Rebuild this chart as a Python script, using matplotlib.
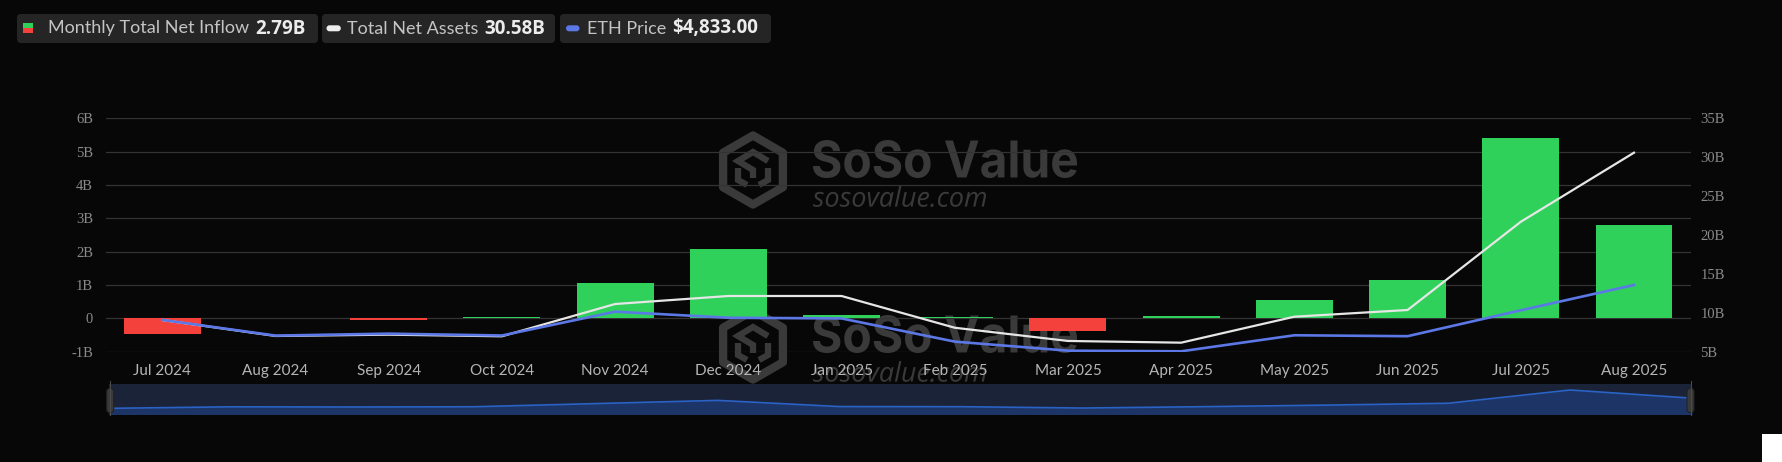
import matplotlib
matplotlib.use("Agg")
import matplotlib.pyplot as plt
import numpy as np
from matplotlib.patches import FancyBboxPatch, Rectangle, PathPatch, Polygon
from matplotlib.lines import Line2D
from matplotlib.textpath import TextPath
from matplotlib.font_manager import FontProperties
from matplotlib.transforms import Affine2D

# ---------------- data ----------------
months = ["Jul 2024", "Aug 2024", "Sep 2024", "Oct 2024", "Nov 2024", "Dec 2024",
          "Jan 2025", "Feb 2025", "Mar 2025", "Apr 2025", "May 2025", "Jun 2025",
          "Jul 2025", "Aug 2025"]
net_inflow_b = [-0.48, 0.01, -0.05, 0.03, 1.05, 2.08, 0.09, 0.05, -0.38, 0.06,
                0.56, 1.16, 5.42, 2.79]
total_net_assets_b = [9.07, 7.02, 7.19, 6.98, 11.13, 12.16, 12.16, 8.08, 6.38,
                      6.16, 9.50, 10.36, 21.70, 30.58]
eth_price = [3232, 2513, 2603, 2518, 3610, 3332, 3300, 2237, 1822, 1793, 2528,
             2486, 3673, 4833]
left_ticks = [-1, 0, 1, 2, 3, 4, 5, 6]
left_labels = ["-1B", "0", "1B", "2B", "3B", "4B", "5B", "6B"]
right_ticks = [5, 10, 15, 20, 25, 30, 35]
right_labels = ["5B", "10B", "15B", "20B", "25B", "30B", "35B"]
legend_labels = ["Monthly Total Net Inflow", "Total Net Assets", "ETH Price"]
legend_values = ["2.79B", "30.58B", "$4,833.00"]

# ---------------- style ----------------
BG = "#070707"
GREEN = "#2fd15a"
RED = "#f5413b"
WHITE_LINE = "#e6e6e6"
BLUE = "#5b78e6"
GRID = "#333333"
WM = "#3a3a3a"

W, H = 1782, 462
fig = plt.figure(figsize=(W / 100, H / 100), dpi=100, facecolor=BG)
T = Affine2D().scale(1 / W, -1 / H).translate(0, 1) + fig.transFigure  # image px (y down)


def fx(px):
    return px / W


def fy(py):
    return 1 - py / H


# ---------------- main axes ----------------
L, R, TOP, BOT = 105.7, 1690.6, 118.3, 351.7
ax = fig.add_axes([fx(L), fy(BOT), fx(R) - fx(L), fy(TOP) - fy(BOT)])
ax.set_facecolor(BG)
x = np.arange(len(months))
bar_colors = [GREEN if v >= 0 else RED for v in net_inflow_b]
ax.bar(x, net_inflow_b, width=0.68, color=bar_colors, zorder=2)
ax.set_xlim(-0.5, len(months) - 0.5)
ax.set_ylim(-1, 6)
ax.set_yticks(left_ticks)
ax.set_yticklabels(left_labels, family="Liberation Serif", fontsize=10.5, color="#8a8a8a")
ax.set_xticks(x)
ax.set_xticklabels(months, family="Lato", fontsize=11, color="#b5b5b5")
ax.tick_params(axis="x", length=0, pad=9)
ax.tick_params(axis="y", length=0, pad=9)
ax.grid(axis="y", color=GRID, lw=0.9)
ax.set_axisbelow(True)
for s in ax.spines.values():
    s.set_visible(False)

ax2 = ax.twinx()
ax2.plot(x, total_net_assets_b, color=WHITE_LINE, lw=1.6, solid_joinstyle="round")
ax2.set_ylim(5, 35)
ax2.set_yticks(right_ticks)
ax2.set_yticklabels(right_labels, family="Liberation Serif", fontsize=10.5, color="#8a8a8a")
ax2.tick_params(axis="y", length=0, pad=7)
for s in ax2.spines.values():
    s.set_visible(False)

ax3 = ax.twinx()
ax3.plot(x, eth_price, color=BLUE, lw=1.9, solid_joinstyle="round")
ax3.set_ylim(1775, 12475)
ax3.axis("off")


# ---------------- watermark ----------------
def add_text_path(s, prop, box, color):
    tp = TextPath((0, 0), s, prop=prop, size=100)
    ext = tp.get_extents()
    x0, x1, y0, y1 = box  # image px, y0 top, y1 bottom
    sx = (x1 - x0) / ext.width
    sy = (y1 - y0) / ext.height
    tr = Affine2D().translate(-ext.x0, -ext.y0).scale(sx, -sy).translate(x0, y1) + T
    p = PathPatch(tp, facecolor=color, edgecolor="none", transform=tr, zorder=0.3)
    p.set_clip_on(False)
    ax.add_artist(p)


def add_watermark(dy):
    cx, cy, r = 753, 170 + dy, 34.5
    ang = np.deg2rad(np.arange(90, 450, 60))
    pts = [(cx + r * np.cos(a), cy - r * np.sin(a)) for a in ang]
    hexp = Polygon(pts, closed=True, fill=False, edgecolor=WM, lw=6,
                   joinstyle="round", transform=T, zorder=0.3)
    hexp.set_clip_on(False)
    ax.add_artist(hexp)
    inner = [
        [(cx + 15, cy - 9), (cx, cy - 18), (cx - 15, cy - 9), (cx, cy), (cx, cy + 8)],
        [(cx - 15, cy - 2), (cx - 15, cy + 10), (cx - 6, cy + 15)],
        [(cx + 15, cy - 2), (cx + 15, cy + 10), (cx + 6, cy + 15)],
    ]
    for seg in inner:
        xs, ys = zip(*seg)
        ln = Line2D(xs, ys, color=WM, lw=4.5, transform=T, zorder=0.3,
                    solid_joinstyle="miter", solid_capstyle="butt")
        ln.set_clip_on(False)
        ax.add_artist(ln)
    add_text_path("SoSo Value", FontProperties(family="Inter", weight="bold"),
                  (813, 1077, 140 + dy, 178 + dy), WM)
    add_text_path("sosovalue.com", FontProperties(family="Open Sans", style="italic"),
                  (813, 986, 186 + dy, 207 + dy), WM)


add_watermark(0)
add_watermark(175)

# ---------------- slider ----------------
SL, SR, ST, SB = 108.7, 1692, 384, 414
axs = fig.add_axes([fx(SL), fy(SB), fx(SR) - fx(SL), fy(ST) - fy(SB)])
axs.set_facecolor("#1a2338")
axs.fill_between(x, net_inflow_b, -10, color="#1c3566", lw=0)
axs.plot(x, net_inflow_b, color="#2a62c6", lw=1.2)
axs.set_xlim(0, len(months) - 1)
axs.set_ylim(-2.3, 7.35)
axs.set_xticks([])
axs.set_yticks([])
for s in axs.spines.values():
    s.set_visible(False)

for hx in (SL + 1.5, SR - 1.5):
    fig.add_artist(Line2D([hx, hx], [ST - 3, SB + 1], color="#4a4a4a", lw=0.8, transform=T))
    fig.add_artist(FancyBboxPatch((hx - 3.5, 388.5), 7, 24,
                                  boxstyle="round,pad=0,rounding_size=3",
                                  facecolor="#3a3a3a", edgecolor="#222222", lw=0.8,
                                  transform=T))

# white block bottom-right
fig.add_artist(Rectangle((1762, 434), 20, 28, facecolor="white", edgecolor="none", transform=T))

# ---------------- legend ----------------
boxes = [(17, 318), (322, 555), (560, 771)]
for (bx0, bx1) in boxes:
    fig.add_artist(FancyBboxPatch((bx0, 14), bx1 - bx0, 29,
                                  boxstyle="round,pad=0,rounding_size=4",
                                  facecolor="#252525", edgecolor="none", transform=T))
# icons
fig.add_artist(Rectangle((23, 22.7), 10, 5.3, facecolor=GREEN, edgecolor="none", transform=T))
fig.add_artist(Rectangle((23, 28.0), 10, 5.3, facecolor=RED, edgecolor="none", transform=T))
fig.add_artist(FancyBboxPatch((326.5, 25.3), 14.3, 6,
                              boxstyle="round,pad=0,rounding_size=3",
                              facecolor="#eeeeee", edgecolor="none", transform=T))
fig.add_artist(FancyBboxPatch((566, 25.3), 13.5, 6,
                              boxstyle="round,pad=0,rounding_size=3",
                              facecolor=BLUE, edgecolor="none", transform=T))
label_x = [48.5, 347, 587]
renderer = fig.canvas.get_renderer()
for lx, lab, val in zip(label_x, legend_labels, legend_values):
    t = fig.text(lx, 28.5, lab, transform=T, family="Lato", fontsize=13,
                 color="#c4c4c4", va="center", ha="left")
    bb = t.get_window_extent(renderer=renderer)
    fig.text(bb.x1 + 6, 28.5, val, transform=T, family="Open Sans", fontsize=13.5,
             fontweight="bold", color="#ececec", va="center", ha="left")

fig.savefig("out.png", dpi=100, facecolor=BG)
